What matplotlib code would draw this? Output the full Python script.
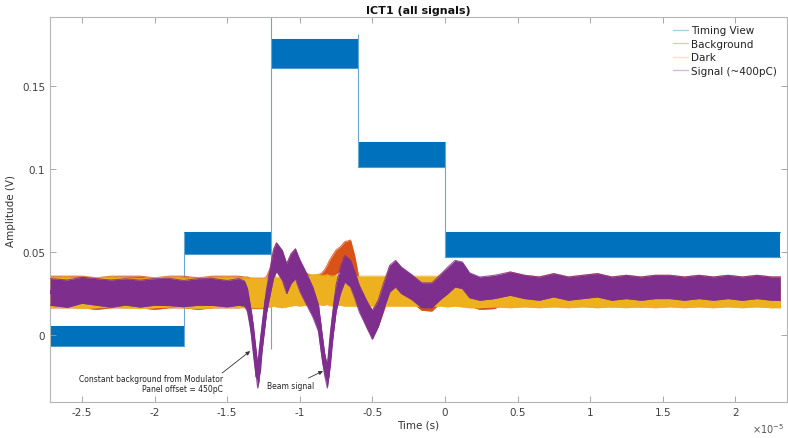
import numpy as np
import matplotlib
matplotlib.use("Agg")
import matplotlib.pyplot as plt
from matplotlib.lines import Line2D

### ==========================================
### DATA (time in units of 1e-5 s, amplitude in V)
### ==========================================

# Timing view : noisy plateaus
timing_t0 = [-2.72, -1.80, -1.20, -0.60, 0.00]
timing_t1 = [-1.80, -1.20, -0.60, 0.00, 2.31]
timing_lo = [-0.0065, 0.049, 0.161, 0.101, 0.047]
timing_hi = [0.0055, 0.062, 0.178, 0.116, 0.062]

# thin transition lines of the timing view
edge_t = [-1.80, -1.20, -0.60, 0.00]
edge_lo = [-0.0065, -0.0085, 0.101, 0.047]
edge_hi = [0.062, 0.195, 0.181, 0.116]

t_sig = [-2.72, -2.60, -2.50, -2.40, -2.30, -2.20, -2.10, -2.00, -1.90, -1.80, -1.70, -1.60, -1.50, -1.42,
         -1.38, -1.36, -1.33, -1.31, -1.29, -1.28, -1.27, -1.25, -1.23, -1.20,
         -1.18, -1.16, -1.12, -1.09, -1.06, -1.03, -1.00, -0.96, -0.91, -0.87,
         -0.85, -0.83, -0.81, -0.80, -0.78, -0.75, -0.72, -0.69, -0.65, -0.62,
         -0.59, -0.54, -0.50, -0.46, -0.42, -0.38, -0.34, -0.30, -0.23, -0.16,
         -0.09, -0.03, 0.02, 0.07, 0.12, 0.17, 0.24,
         0.34, 0.45, 0.55, 0.65, 0.75, 0.85, 0.95, 1.05, 1.15, 1.25, 1.35, 1.45, 1.55, 1.65,
         1.75, 1.85, 1.95, 2.05, 2.15, 2.25, 2.31]

# Signal (~400pC) : band centre and half width
sig_mid = [0.026, 0.025, 0.027, 0.026, 0.025, 0.026, 0.025, 0.026, 0.026, 0.025, 0.026, 0.026, 0.025, 0.026,
           0.025, 0.021, 0.006, -0.010, -0.025, -0.021, -0.010, 0.005, 0.020, 0.034,
           0.043, 0.047, 0.042, 0.034, 0.040, 0.043, 0.036, 0.029, 0.020, 0.010,
           -0.004, -0.017, -0.025, -0.019, 0.000, 0.022, 0.033, 0.040, 0.037, 0.030,
           0.022, 0.013, 0.006, 0.013, 0.024, 0.034, 0.037, 0.033, 0.029, 0.024,
           0.024, 0.029, 0.033, 0.037, 0.036, 0.030, 0.028,
           0.029, 0.031, 0.029, 0.028, 0.030, 0.028, 0.029, 0.030, 0.028, 0.029, 0.028, 0.029, 0.029, 0.028,
           0.029, 0.028, 0.029, 0.028, 0.029, 0.028, 0.028]
sig_hw = [0.0080, 0.0082, 0.0078, 0.0080, 0.0082, 0.0079, 0.0081, 0.0080, 0.0082, 0.0079, 0.0080, 0.0081, 0.0079, 0.0080,
          0.0075, 0.0070, 0.0065, 0.0065, 0.0068, 0.0065, 0.0065, 0.0065, 0.0070, 0.0080,
          0.0085, 0.0085, 0.0090, 0.0090, 0.0090, 0.0090, 0.0095, 0.0095, 0.0090, 0.0080,
          0.0070, 0.0065, 0.0068, 0.0065, 0.0070, 0.0080, 0.0080, 0.0080, 0.0080, 0.0080,
          0.0080, 0.0080, 0.0085, 0.0080, 0.0080, 0.0080, 0.0080, 0.0080, 0.0075, 0.0075,
          0.0075, 0.0075, 0.0080, 0.0080, 0.0080, 0.0075, 0.0070,
          0.0070, 0.0070, 0.0070, 0.0070, 0.0070, 0.0070, 0.0070, 0.0070, 0.0070, 0.0070, 0.0070, 0.0070, 0.0070, 0.0070,
          0.0070, 0.0070, 0.0070, 0.0070, 0.0070, 0.0070, 0.0070]

# Background
bg_mid = [0.026, 0.026, 0.026, 0.025, 0.026, 0.026, 0.026, 0.025, 0.026, 0.026, 0.025, 0.026, 0.026, 0.026,
          0.026, 0.026, 0.025, 0.025, 0.025, 0.025, 0.025, 0.025, 0.026, 0.032,
          0.043, 0.047, 0.042, 0.034, 0.040, 0.043, 0.036, 0.029, 0.027, 0.028,
          0.030, 0.032, 0.035, 0.037, 0.040, 0.044, 0.046, 0.049, 0.050, 0.040,
          0.025, 0.013, 0.007, 0.013, 0.023, 0.033, 0.036, 0.032, 0.028, 0.023,
          0.023, 0.028, 0.031, 0.034, 0.033, 0.026, 0.024,
          0.025, 0.029, 0.027, 0.026, 0.028, 0.026, 0.027, 0.028, 0.026, 0.027, 0.026, 0.027, 0.027, 0.026,
          0.027, 0.026, 0.027, 0.026, 0.027, 0.026, 0.026]
bg_hw = [0.0095] * 14 + [0.0090] * 10 + [0.0085] * 10 + [0.0072] * 10 + [0.0080] * 10 + [0.0085] * 7 + [0.0090] * 21

# Dark
dark_mid = [0.0255, 0.0260, 0.0250, 0.0255, 0.0260, 0.0255, 0.0250, 0.0255, 0.0260, 0.0255, 0.0250, 0.0255, 0.0260, 0.0255,
            0.0255, 0.0255, 0.0255, 0.0255, 0.0255, 0.0255, 0.0255, 0.0255, 0.0255, 0.0260,
            0.0265, 0.0260, 0.0255, 0.0260, 0.0265, 0.0270, 0.0265, 0.0270, 0.0275, 0.0275,
            0.0270, 0.0270, 0.0275, 0.0270, 0.0265, 0.0270, 0.0270, 0.0265, 0.0265, 0.0265,
            0.0265, 0.0265, 0.0265, 0.0265, 0.0265, 0.0265, 0.0265, 0.0265, 0.0265, 0.0265,
            0.0265, 0.0265, 0.0260, 0.0265, 0.0260, 0.0255, 0.0255,
            0.0260, 0.0255, 0.0260, 0.0255, 0.0260, 0.0255, 0.0260, 0.0255, 0.0260, 0.0255, 0.0260, 0.0255, 0.0260, 0.0255,
            0.0260, 0.0255, 0.0260, 0.0255, 0.0260, 0.0255, 0.0255]
dark_hw = [0.0090] * 82

x_ticks = [-2.5, -2, -1.5, -1, -0.5, 0, 0.5, 1, 1.5, 2]
y_ticks = [0, 0.05, 0.1, 0.15]
y_tick_labels = ["0", "0.05", "0.1", "0.15"]

legend_labels = ["Timing View", "Background", "Dark", "Signal (~400pC)"]

### ==========================================

C_TIMING = "#0072BD"
C_BG = "#D95319"
C_DARK = "#EDB120"
C_SIG = "#7E2F8E"

plt.rcParams['font.family'] = ['DejaVu Sans']

fig = plt.figure(figsize=(7.88, 4.39), dpi=100, facecolor='white')
ax = fig.add_axes([0.0635, 0.082, 0.935, 0.877])


def band(t, mid, hw, color, z):
    t = np.asarray(t)
    mid = np.asarray(mid)
    hw = np.asarray(hw)
    ax.fill_between(t, mid - hw, mid + hw, color=color, lw=0, zorder=z)
    ax.plot(t, mid - hw, color=color, lw=0.8, alpha=0.8, zorder=z)
    ax.plot(t, mid + hw, color=color, lw=0.8, alpha=0.8, zorder=z)
    ax.plot(t, mid, color=color, lw=3.0, zorder=z, solid_capstyle='butt')


# --- timing view ---
for t0, t1, lo, hi in zip(timing_t0, timing_t1, timing_lo, timing_hi):
    ax.fill_between([t0, t1], [lo, lo], [hi, hi], color=C_TIMING, lw=0, zorder=1)
    ax.plot([t0, t1], [lo, lo], color=C_TIMING, lw=0.8, alpha=0.7, zorder=1)
    ax.plot([t0, t1], [hi, hi], color=C_TIMING, lw=0.8, alpha=0.7, zorder=1)
ax.vlines(edge_t, edge_lo, edge_hi, color="#6aa9cf", lw=0.8, zorder=1)

# --- other signals ---
band(t_sig, bg_mid, bg_hw, C_BG, 2)
band(t_sig, dark_mid, dark_hw, C_DARK, 3)
band(t_sig, sig_mid, sig_hw, C_SIG, 4)

# --- annotations ---
arrow = dict(arrowstyle='-|>', color='#333333', lw=0.6, mutation_scale=6, shrinkA=0, shrinkB=0)
ax.annotate("", xy=(-1.342, -0.0096), xytext=(-1.535, -0.0228), arrowprops=arrow, zorder=6)
ax.text(-1.528, -0.029, "Constant background from Modulator\nPanel offset = 450pC",
        ha='right', va='center', multialignment='right', fontsize=5.5, color='#222222', linespacing=1.25)
ax.annotate("", xy=(-0.84, -0.0216), xytext=(-0.94, -0.0258), arrowprops=arrow, zorder=6)
ax.text(-1.225, -0.030, "Beam signal", ha='left', va='center', fontsize=5.5, color='#222222')

# --- axes style ---
ax.set_xlim(-2.72, 2.355)
ax.set_ylim(-0.0402, 0.1914)
ax.set_xticks(x_ticks)
ax.set_xticklabels(["%g" % v for v in x_ticks])
ax.set_yticks(y_ticks)
ax.set_yticklabels(y_tick_labels)
ax.tick_params(direction='in', length=4, width=0.6, color='#9a9a9a', labelcolor='#404040',
               labelsize=7.5, top=True, right=True)
for s in ax.spines.values():
    s.set_color('#b5b5b5')
    s.set_linewidth(0.8)

ax.set_title("ICT1 (all signals)", fontsize=8, fontweight='bold', color='#111111', pad=3)
ax.set_xlabel("Time (s)", fontsize=7.5, color='#333333', labelpad=2)
ax.set_ylabel("Amplitude (V)", fontsize=7.5, color='#333333', labelpad=4)
ax.text(0.997, -0.068, r"$\times10^{-5}$", transform=ax.transAxes, ha='right', va='center',
        fontsize=7, color='#555555')

handles = [Line2D([], [], color=c, lw=0.9, alpha=0.35) for c in (C_TIMING, C_BG, C_DARK, C_SIG)]
ax.legend(handles, legend_labels, loc='upper right', bbox_to_anchor=(0.995, 0.995), frameon=False,
          fontsize=7.5, handlelength=1.4, handletextpad=0.3, labelspacing=0.35, borderaxespad=0.2,
          labelcolor='#222222')

fig.savefig("out.png", dpi=100, facecolor='white')
